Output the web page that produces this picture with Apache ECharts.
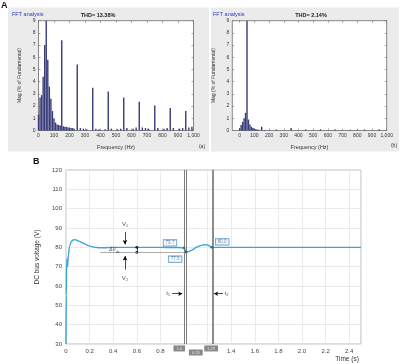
<!DOCTYPE html>
<html>
<head>
<meta charset="utf-8">
<script src="https://cdn.jsdelivr.net/npm/echarts@6/dist/echarts.min.js"></script>
<style>
html, body { margin: 0; padding: 0; background: #fff; }
#chart { width: 400px; height: 364px; }
</style>
</head>
<body>
<div id="chart"></div>
<script>
// FFT (a) 频谱, 单位 Hz / % of fundamental
const freqA = [0, 10, 20, 30, 40, 50, 60, 70, 80, 90, 100, 110, 120, 130, 140, 150, 160, 170, 180, 190, 200, 210, 220, 230, 250, 270, 290, 310, 350, 370, 390, 430, 450, 470, 510, 530, 550, 570, 610, 630, 650, 670, 690, 710, 750, 770, 810, 830, 850, 870, 910, 930, 950, 970, 990]
const magA = [1.3, 2.7, 2.9, 4.4, 7.0, 100, 5.8, 3.6, 2.6, 1.6, 1.0, 0.65, 0.5, 0.45, 0.4, 7.4, 0.35, 0.3, 0.3, 0.25, 0.25, 0.2, 0.2, 0.15, 5.4, 0.2, 0.15, 0.1, 3.5, 0.15, 0.1, 0.1, 3.2, 0.15, 0.1, 0.15, 2.7, 0.2, 0.15, 0.25, 2.35, 0.25, 0.2, 0.15, 2.05, 0.2, 0.15, 0.2, 1.85, 0.2, 0.15, 0.2, 1.6, 0.25, 0.3]
// FFT (b)
const freqB = [0, 10, 20, 30, 40, 50, 60, 70, 80, 90, 100, 110, 120, 130, 150, 170, 250, 350, 450, 550, 650, 750, 850, 950]
const magB = [0.2, 0.45, 0.7, 1.0, 1.45, 100, 0.9, 0.5, 0.3, 0.2, 0.15, 0.1, 0.08, 0.06, 0.3, 0.05, 0.08, 0.2, 0.08, 0.1, 0.08, 0.06, 0.08, 0.1]
const freqTicks = [0, 100, 200, 300, 400, 500, 600, 700, 800, 900, 1000]

// 直流母线电压
const timeV = [0, 0.002, 0.006, 0.01, 0.013, 0.02, 0.03, 0.045, 0.06, 0.075, 0.09, 0.11, 0.13, 0.15, 0.17, 0.19, 0.21, 0.23, 0.25, 0.28, 0.32, 0.4, 0.6, 0.8, 0.95, 1.0, 1.018, 1.05, 1.08, 1.11, 1.14, 1.17, 1.2, 1.22, 1.235, 1.3, 1.6, 2.0, 2.5]
const volt = [30, 55, 73, 74, 70, 76, 80.5, 83, 83.8, 84, 83.7, 83.2, 82.6, 82, 81.4, 80.9, 80.5, 80.2, 80, 79.8, 79.8, 80, 80, 80, 79.9, 79.7, 77.5, 78, 79, 80.2, 80.9, 81.3, 81.2, 80.6, 80.0, 80, 80, 80, 80]
const cursorTimes = [1.0, 1.018, 1.235]
const cursorVolts = [79.7, 77.5, 80.0]

const font = 'Liberation Sans'
const chart = echarts.init(document.getElementById('chart'))

const fftGrid = { show: true, backgroundColor: '#fff', borderColor: '#6a6a6a', borderWidth: 0.8, top: 20.7, height: 109.8 }
const fftLabel = { fontSize: 5, color: '#333', margin: 3, fontFamily: font }
const fftTick = { inside: true, length: 2, lineStyle: { color: '#6a6a6a', width: 0.6 } }

function fftX(gridIndex, min, bottom) {
    return {
        type: 'value', gridIndex: gridIndex, min: min, max: 1000,
        position: bottom ? 'bottom' : 'top',
        axisLine: { show: false, onZero: false },
        axisTick: Object.assign({ customValues: freqTicks }, fftTick),
        axisLabel: Object.assign({ show: bottom, customValues: freqTicks }, fftLabel),
        splitLine: { show: false },
        name: bottom ? 'Frequency (Hz)' : '',
        nameLocation: 'middle', nameGap: 14,
        nameTextStyle: { fontSize: 5.5, color: '#333', fontFamily: font }
    }
}
function fftY(gridIndex, left) {
    return {
        type: 'value', gridIndex: gridIndex, min: 0, max: 9, interval: 1,
        position: left ? 'left' : 'right',
        axisLine: { show: false, onZero: false },
        axisTick: fftTick,
        axisLabel: Object.assign({ show: left }, fftLabel),
        splitLine: { show: false },
        name: left ? 'Mag (% of Fundamental)' : '',
        nameLocation: 'middle', nameGap: 16,
        nameTextStyle: { fontSize: 5, color: '#333', fontFamily: font }
    }
}
function bars(freq, mag, idx) {
    return {
        type: 'bar', xAxisIndex: idx, yAxisIndex: idx,
        data: freq.map((f, i) => [f, mag[i]]),
        barWidth: 1.4, itemStyle: { color: '#383c78' }, silent: true
    }
}
function note(t, v, text, extra) {
    return { value: [t, v], label: Object.assign({ formatter: text }, extra || {}) }
}

const option = {
    animation: false,
    textStyle: { fontFamily: font },
    graphic: [
        { type: 'rect', z: -10, shape: { x: 8, y: 7.5, width: 201, height: 144 }, style: { fill: '#ebebeb' } },
        { type: 'rect', z: -10, shape: { x: 211, y: 7.5, width: 188, height: 144 }, style: { fill: '#ebebeb' } },
        { type: 'text', x: 1, y: 1, style: { text: 'A', font: 'bold 9px ' + font, fill: '#111' } },
        { type: 'text', x: 12, y: 11.5, style: { text: 'FFT analysis', font: '5.5px ' + font, fill: '#2a3bbf' } },
        { type: 'text', x: 98, y: 12.5, style: { text: 'THD= 13.38%', font: 'bold 5.5px ' + font, fill: '#222', textAlign: 'center' } },
        { type: 'text', x: 202, y: 144.5, style: { text: '(a)', font: '5px ' + font, fill: '#333', textAlign: 'center' } },
        { type: 'text', x: 213, y: 11.5, style: { text: 'FFT analysis', font: '5.5px ' + font, fill: '#2a3bbf' } },
        { type: 'text', x: 311, y: 12.5, style: { text: 'THD= 2.14%', font: 'bold 5.5px ' + font, fill: '#222', textAlign: 'center' } },
        { type: 'text', x: 394, y: 143.5, style: { text: '(b)', font: '5px ' + font, fill: '#333', textAlign: 'center' } },
        { type: 'text', x: 33, y: 157, style: { text: 'B', font: 'bold 9px ' + font, fill: '#111' } },
        { type: 'text', x: 347, y: 356, style: { text: 'Time (s)', font: '6.5px ' + font, fill: '#333', textAlign: 'center' } }
    ],
    grid: [
        Object.assign({ left: 38.5, width: 155 }, fftGrid),
        Object.assign({ left: 232.3, width: 154.4 }, fftGrid),
        { left: 66, top: 170, width: 295, height: 174, show: true, backgroundColor: '#fff', borderColor: '#a8a8a8', borderWidth: 0.8 }
    ],
    xAxis: [
        fftX(0, 0, true), fftX(0, 0, false),
        fftX(1, -50, true), fftX(1, -50, false),
        {
            type: 'value', gridIndex: 2, min: 0, max: 2.5, interval: 0.2,
            axisLine: { show: false }, axisTick: { show: false },
            axisLabel: {
                fontSize: 6, color: '#444', margin: 4,
                formatter: v => (Math.abs(v - 1) < 1e-6 || Math.abs(v - 1.2) < 1e-6 || v > 2.45) ? '' : (v === 0 ? '0' : v.toFixed(1))
            },
            splitLine: { show: true, lineStyle: { color: '#e6e6e6', width: 0.8 } }
        }
    ],
    yAxis: [
        fftY(0, true), fftY(0, false),
        fftY(1, true), fftY(1, false),
        {
            type: 'value', gridIndex: 2, min: 30, max: 120, interval: 10,
            axisLine: { show: false }, axisTick: { show: false },
            axisLabel: { fontSize: 6, color: '#444', margin: 4 },
            splitLine: { show: true, lineStyle: { color: '#e6e6e6', width: 0.8 } },
            name: 'DC bus voltage (V)', nameLocation: 'middle', nameGap: 21,
            nameTextStyle: { fontSize: 6.5, color: '#333' }
        }
    ],
    series: [
        bars(freqA, magA, 0),
        bars(freqB, magB, 2),
        {
            type: 'line', xAxisIndex: 4, yAxisIndex: 4,
            data: timeV.map((t, i) => [t, volt[i]]),
            showSymbol: false, smooth: 0.3, smoothMonotone: 'x',
            lineStyle: { color: '#3ca6d3', width: 1.4 }, itemStyle: { color: '#3ca6d3' },
            silent: true, z: 3,
            markLine: {
                silent: true, symbol: ['none', 'none'], label: { show: false },
                lineStyle: { color: '#000', width: 0.7, type: 'solid' },
                data: [
                    { xAxis: 1.0, lineStyle: { color: '#707070', width: 0.9, type: 'solid' } },
                    { xAxis: 1.018, lineStyle: { color: '#707070', width: 0.9, type: 'solid' } },
                    { xAxis: 1.235, lineStyle: { color: '#707070', width: 1.6, type: 'solid' } },
                    [{ coord: [0.29, 77.5], lineStyle: { color: '#888', width: 0.7, type: 'solid' } }, { coord: [1.0, 77.5] }],
                    [{ coord: [0.6, 80] }, { coord: [0.6, 77.5] }],
                    [{ coord: [0.5, 88] }, { coord: [0.5, 81.5], symbol: 'arrow', symbolSize: [3.5, 4.5] }],
                    [{ coord: [0.5, 68.5] }, { coord: [0.5, 75.5], symbol: 'arrow', symbolSize: [3.5, 4.5] }],
                    [{ coord: [0.9, 56] }, { coord: [0.985, 56], symbol: 'arrow', symbolSize: [3.5, 4] }],
                    [{ coord: [1.33, 56] }, { coord: [1.255, 56], symbol: 'arrow', symbolSize: [3.5, 4] }]
                ]
            }
        },
        {
            // ΔV 端点
            type: 'scatter', xAxisIndex: 4, yAxisIndex: 4, silent: true, z: 4,
            symbolSize: 3, itemStyle: { color: '#111' },
            data: [[0.6, 80], [0.6, 77.5]]
        },
        {
            // 数据游标
            type: 'scatter', xAxisIndex: 4, yAxisIndex: 4, silent: true, z: 5,
            symbolSize: 2.6, itemStyle: { color: '#1d5c8c' },
            data: cursorTimes.map((t, i) => ({
                value: [t, cursorVolts[i]],
                label: {
                    show: true, position: 'inside',
                    offset: [[-14, -5], [-11, 7], [10.5, -5.5]][i],
                    formatter: cursorVolts[i].toFixed(1),
                    fontSize: 4.5, color: '#2f5f8f',
                    backgroundColor: '#fff', borderColor: '#3a86c4', borderWidth: 0.8,
                    padding: [0.5, 2, 0, 2]
                }
            }))
        },
        {
            // 文字注释
            type: 'scatter', xAxisIndex: 4, yAxisIndex: 4, silent: true, z: 6,
            symbolSize: 0, clip: false,
            label: { show: true, position: 'inside', fontSize: 6, color: '#222' },
            data: [
                note(0.5, 92, 'V₁'),
                note(0.5, 64, 'V₂'),
                note(0.41, 78.6, '{a|ΔV}{b|dc}', { rich: { a: { fontSize: 5, fontStyle: 'italic', color: '#222' }, b: { fontSize: 3.5, fontStyle: 'italic', color: '#222', padding: [3, 0, 0, 0] } } }),
                note(0.865, 56, 't₁'),
                note(1.36, 56, 't₂'),
                note(0.96, 27.7, '1.0', { fontSize: 4, color: '#fff', backgroundColor: '#6a6a6a', padding: [1, 3] }),
                note(1.1, 25.6, '0.23', { fontSize: 4, color: '#fff', backgroundColor: '#6a6a6a', padding: [1, 3] }),
                note(1.23, 27.7, '1.23', { fontSize: 4, color: '#fff', backgroundColor: '#6a6a6a', padding: [1, 3] })
            ]
        }
    ]
}
chart.setOption(option)
</script>
</body>
</html>
